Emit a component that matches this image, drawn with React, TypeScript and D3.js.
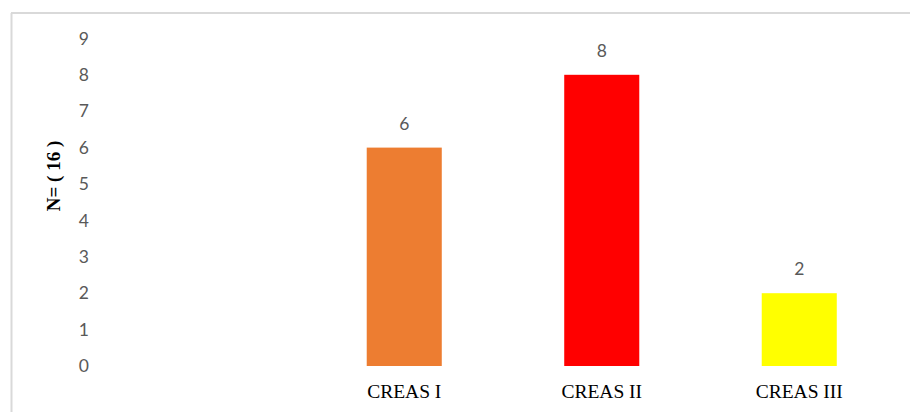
import React from "react";
import * as d3 from "d3";

const categories = ["", "CREAS I", "CREAS II", "CREAS III"];
const values: (number | null)[] = [null, 6, 8, 2];
const colors = ["none", "#ED7D31", "#FF0000", "#FFFF00"];
const yTicks = [0, 1, 2, 3, 4, 5, 6, 7, 8, 9];
const yLabel = "N= ( 16 )";

export default function App() {
  const W = 910, H = 412;
  const x = d3.scaleBand<string>().domain(categories).range([108, 898]).paddingInner(0.62).paddingOuter(0.31);
  const y = d3.scaleLinear().domain([0, 9]).range([366, 38.4]);
  return (
    <svg width={W} height={H} style={{ position: "absolute", left: 0, top: 0, background: "#fff" }}>
      <rect x={0} y={0} width={W} height={H} fill="#fff" />
      <line x1={11.5} y1={13} x2={11.5} y2={H} stroke="#d9d9d9" strokeWidth={2} />
      <line x1={11} y1={13} x2={W} y2={13} stroke="#d9d9d9" strokeWidth={2} />
      {yTicks.map((t) => (
        <text key={t} x={89} y={y(t)} dy="0.35em" textAnchor="end" fontFamily="Lato, 'Open Sans', sans-serif" fontSize={17.5} fill="#595959">
          {t}
        </text>
      ))}
      <text transform={`translate(60,176) rotate(-90)`} textAnchor="middle" fontFamily="'Liberation Serif', 'Times New Roman', serif" fontWeight="bold" fontSize={19} fill="#000">
        {yLabel}
      </text>
      {categories.map((c, i) => {
        const v = values[i];
        const bx = x(c)!;
        const bw = x.bandwidth();
        return (
          <g key={i}>
            {v !== null && (
              <>
                <rect x={bx} y={y(v)} width={bw} height={y(0) - y(v)} fill={colors[i]} />
                <text x={bx + bw / 2} y={y(v) - 24} dy="0.35em" textAnchor="middle" fontFamily="Lato, 'Open Sans', sans-serif" fontSize={17.5} fill="#595959">
                  {v}
                </text>
              </>
            )}
            <text x={bx + bw / 2} y={391} dy="0.35em" textAnchor="middle" fontFamily="'Liberation Serif', 'Times New Roman', serif" fontSize={19.5} fill="#000">
              {c}
            </text>
          </g>
        );
      })}
    </svg>
  );
}
